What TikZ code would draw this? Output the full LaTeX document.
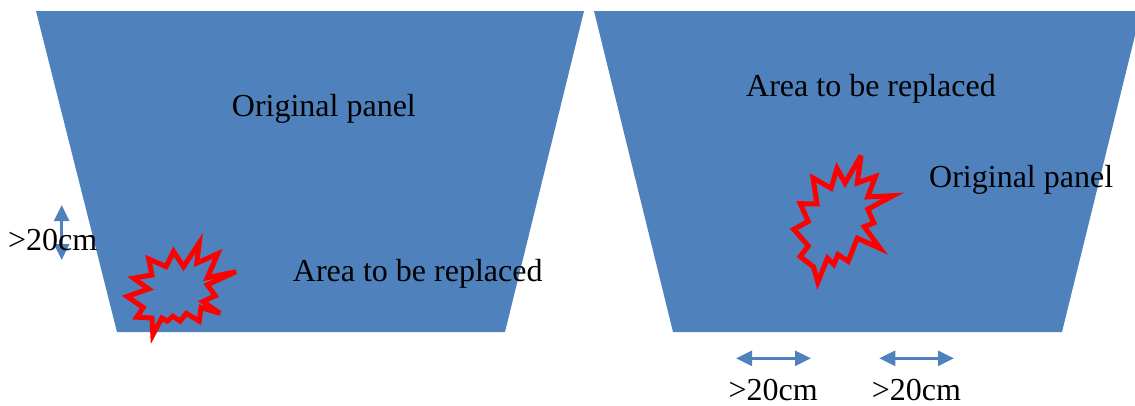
\documentclass[tikz,border=0pt]{standalone}
\usepackage{fontspec}
\setmainfont{Liberation Serif}
\usetikzlibrary{arrows.meta,calc}
\definecolor{panelblue}{HTML}{4F81BD}
\tikzset{
  panel/.style={fill=panelblue, draw=none},
  burst/.style={draw=red, line width=5pt, line join=miter, miter limit=5, fill=panelblue},
  dimarrow/.style={draw=panelblue, line width=2.6pt, {Triangle[length=16pt,width=15pt]}-{Triangle[length=16pt,width=15pt]}},
  lbl/.style={font=\fontsize{32}{38}\selectfont, inner sep=0pt, anchor=base west, text=black}
}
\def\ka{0.96}
\def\ki{1.05}
\begin{document}
\begin{tikzpicture}[x=1pt,y=-1pt]
\useasboundingbox (0,0) rectangle (1135,405);
\clip (0,0) rectangle (1135,405);
% panels
\path[panel] (36,11) -- (584,11) -- (505,332) -- (117,332) -- cycle;
\path[panel] (594,11) -- (1141,11) -- (1062,332) -- (673,332) -- cycle;
% left burst
\coordinate (LC) at (180,290);
\path[burst] ($(LC)!\ka!(200,241)$) -- ($(LC)!\ki!(196,264.3)$) -- ($(LC)!\ka!(219.3,252.3)$) -- ($(LC)!\ki!(206,278.3)$)
  -- ($(LC)!\ka!(238.3,271)$) -- ($(LC)!\ki!(206,285)$) -- ($(LC)!\ka!(216.7,296)$) -- ($(LC)!\ki!(201.7,301)$)
  -- ($(LC)!\ka!(221.7,314.3)$) -- ($(LC)!\ki!(200,306.7)$) -- ($(LC)!\ka!(200,322.3)$) -- ($(LC)!\ki!(186,312.3)$)
  -- ($(LC)!\ka!(180,322.3)$) -- ($(LC)!\ki!(173.3,315)$) -- ($(LC)!\ka!(166.7,322.3)$) -- ($(LC)!\ki!(162.7,316.7)$)
  -- ($(LC)!\ka!(151.7,336.7)$) -- ($(LC)!\ki!(153.3,316.7)$) -- ($(LC)!\ka!(135,318.3)$) -- ($(LC)!\ki!(145,306.7)$)
  -- ($(LC)!\ka!(125,296.7)$) -- ($(LC)!\ki!(150,289)$) -- ($(LC)!\ka!(131.7,277.7)$) -- ($(LC)!\ki!(153.3,275.7)$)
  -- ($(LC)!\ka!(147.3,257.7)$) -- ($(LC)!\ki!(166.7,267.7)$) -- ($(LC)!\ka!(173.3,250)$) -- ($(LC)!\ki!(183.3,267.7)$) -- cycle;
% right burst
\coordinate (RC) at (845,220);
\path[burst] ($(RC)!\ka!(861.7,153)$) -- ($(RC)!\ki!(856.7,184.7)$) -- ($(RC)!\ka!(876.7,174.7)$) -- ($(RC)!\ki!(866.7,198)$)
  -- ($(RC)!\ka!(895,194.7)$) -- ($(RC)!\ki!(866.7,209.7)$) -- ($(RC)!\ka!(875,223)$) -- ($(RC)!\ki!(863.3,226.3)$)
  -- ($(RC)!\ka!(881.7,249.7)$) -- ($(RC)!\ki!(856.7,237.3)$) -- ($(RC)!\ka!(848.3,263)$) -- ($(RC)!\ki!(838.3,253)$)
  -- ($(RC)!\ka!(833.3,266.3)$) -- ($(RC)!\ki!(828.3,256.3)$) -- ($(RC)!\ka!(816.7,284.7)$) -- ($(RC)!\ki!(815,264.7)$)
  -- ($(RC)!\ka!(798.3,258)$) -- ($(RC)!\ki!(810,244.7)$) -- ($(RC)!\ka!(791.7,229.7)$) -- ($(RC)!\ki!(810,221.3)$)
  -- ($(RC)!\ka!(798.3,203)$) -- ($(RC)!\ki!(818.3,204.7)$) -- ($(RC)!\ka!(811.7,176.3)$) -- ($(RC)!\ki!(831.7,189.7)$)
  -- ($(RC)!\ka!(836.7,166.3)$) -- ($(RC)!\ki!(845,184.7)$) -- cycle;
% dimension arrows
\coordinate (v1) at (61.7,205);
\coordinate (v2) at (61.7,260);
\coordinate (h1a) at (736,358.3);
\coordinate (h1b) at (811,358.3);
\coordinate (h2a) at (879.3,358.3);
\coordinate (h2b) at (954,358.3);
\draw[dimarrow] (v1) -- (v2);
\draw[dimarrow] (h1a) -- (h1b);
\draw[dimarrow] (h2a) -- (h2b);
% labels
\node[lbl] (origL) at (231.7,116.7) {Original panel};
\node[lbl] (areaL) at (292.7,281.7) {Area to be replaced};
\node[lbl] (areaR) at (746,96.5) {Area to be replaced};
\node[lbl] (origR) at (929,187) {Original panel};
\node[lbl] (dimL) at (8,250) {>20cm};
\node[lbl] (dim1) at (728.3,400) {>20cm};
\node[lbl] (dim2) at (871.7,400) {>20cm};
\end{tikzpicture}
\end{document}
